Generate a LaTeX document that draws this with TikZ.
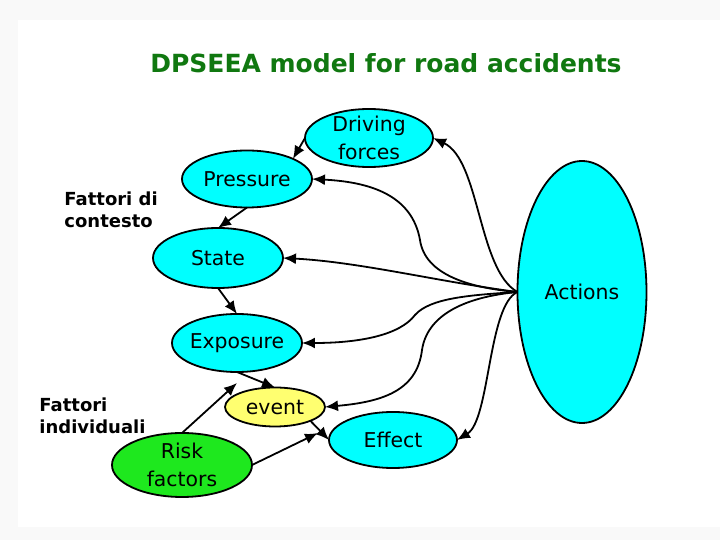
\documentclass[tikz,border=0pt]{standalone}
\usepackage{fontspec}
\setmainfont{DejaVu Sans}
\usepackage{tikz}
\usetikzlibrary{shapes.geometric,arrows.meta}

\definecolor{blobcyan}{RGB}{0,255,255}
\definecolor{eventyellow}{RGB}{255,255,112}
\definecolor{riskgreen}{RGB}{30,232,30}
\definecolor{titlegreen}{RGB}{16,120,16}
\definecolor{slidegray}{RGB}{249,249,249}

\tikzset{
  blob/.style={ellipse,draw,line width=0.9pt,fill=blobcyan,inner sep=0pt,outer sep=0pt},
  blobtext/.style={font=\fontsize{10.2}{14}\selectfont,align=center,text=black},
  factor/.style={font=\fontsize{9}{11}\selectfont\bfseries,align=left,anchor=north west,inner sep=0pt},
  link/.style={-{Latex[length=6.5pt,width=5.5pt]},line width=0.9pt},
}

\begin{document}
\begin{tikzpicture}[x=0.5pt,y=-0.5pt]
  % slide background
  \fill[slidegray] (0,0) rectangle (720,540);
  \fill[white] (18,20) rectangle (720,527);

  \node[font=\fontsize{12.5}{14}\selectfont\bfseries,text=titlegreen] (title) at (386,63) {DPSEEA model for road accidents};

  \node[factor] (ctx) at (64,191) {Fattori di\\contesto};
  \node[factor] (ind) at (39,397) {Fattori\\individuali};

  % the chain
  \node[blob,minimum width=64pt,minimum height=29pt,label={[blobtext]center:Driving\\forces}] (drv) at (369,138) {};
  \node[blob,minimum width=65pt,minimum height=28.5pt,label={[blobtext]center:Pressure}] (pres) at (247,179) {};
  \node[blob,minimum width=65pt,minimum height=30pt,label={[blobtext]center:State}] (state) at (218,258) {};
  \node[blob,minimum width=65pt,minimum height=29pt,label={[blobtext]center:Exposure}] (expo) at (237,343) {};
  \node[blob,fill=eventyellow,minimum width=50pt,minimum height=19.5pt,label={[blobtext]center:event}] (event) at (275,407) {};
  \node[blob,minimum width=64pt,minimum height=28pt,label={[blobtext]center:Effect}] (eff) at (393,440) {};
  \node[blob,fill=riskgreen,minimum width=70pt,minimum height=32pt,label={[blobtext]center:Risk\\factors}] (risk) at (182,465) {};
  \node[blob,minimum width=64.5pt,minimum height=131pt,label={[blobtext]center:Actions}] (act) at (582,292) {};

  \coordinate (rk1) at (237,383);
  \coordinate (rk2) at (318,433);

  \draw[link] (drv.west) -- (pres.north east);
  \draw[link] (pres.south) -- (state.north);
  \draw[link] (state.south) -- (expo.north);
  \draw[link] (expo.south) -- (event.north);
  \draw[link] (event.south east) -- (eff.west);
  \draw[link] (risk.north) -- (rk1);
  \draw[link] (risk.east) -- (rk2);

  % actions fan
  \draw[link] (act.west) .. controls (478,270) and (480,160) .. (drv.east);
  \draw[link] (act.west) .. controls (470,288) and (425,275) .. (420,240) .. controls (412,195) and (370,182) .. (pres.east);
  \draw[link] (act.west) .. controls (440,282) and (360,262) .. (state.east);
  \draw[link] (act.west) .. controls (470,295) and (430,298) .. (415,315) .. controls (400,335) and (360,343) .. (expo.east);
  \draw[link] (act.west) .. controls (475,296) and (428,310) .. (422,350) .. controls (417,392) and (380,402) .. (event.east);
  \draw[link] (act.west) .. controls (488,305) and (490,420) .. (eff.east);
\end{tikzpicture}
\end{document}
